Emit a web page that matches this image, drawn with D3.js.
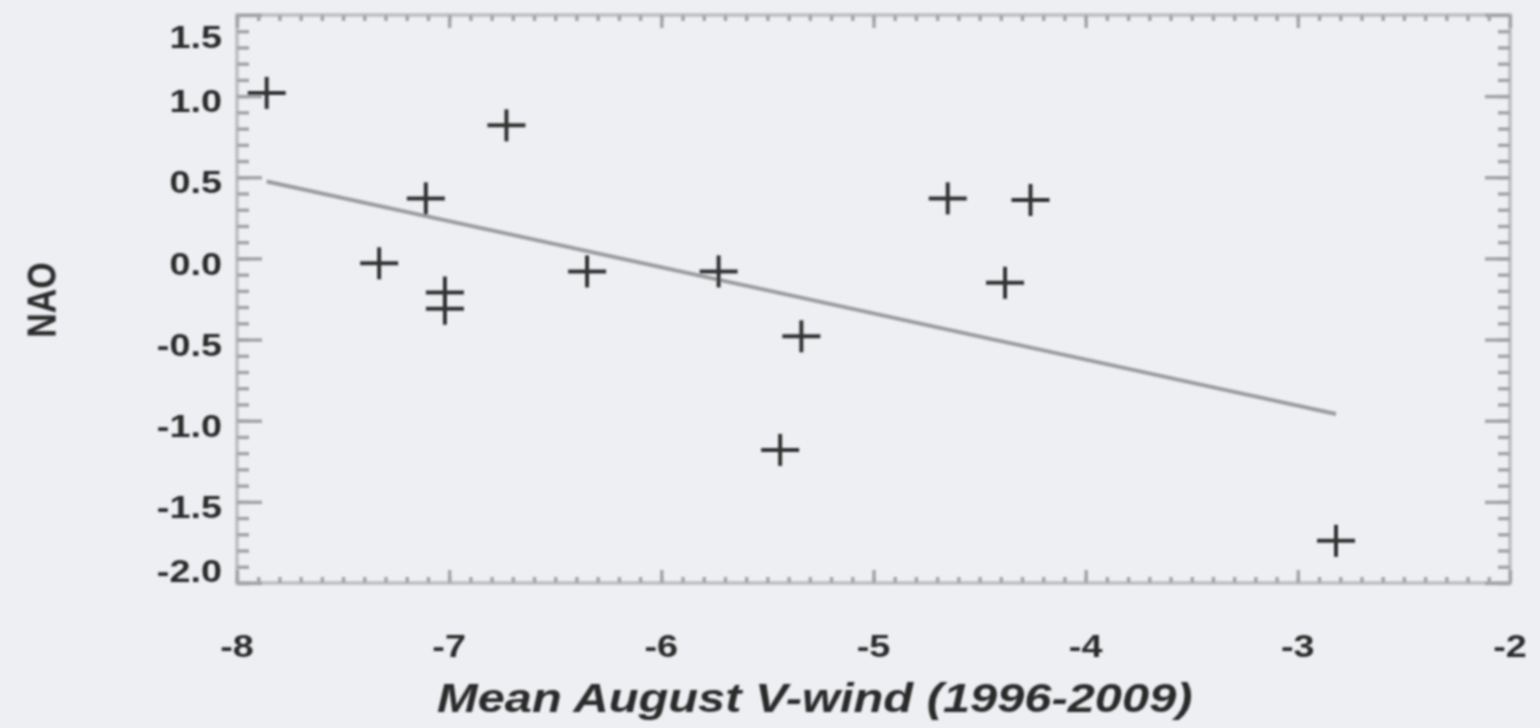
<!DOCTYPE html>
<html>
<head>
<meta charset="utf-8">
<script src="https://cdn.jsdelivr.net/npm/d3@7"></script>
<style>
  html, body { margin: 0; padding: 0; background: #eeeff3; }
  svg { display: block; }
  text { font-family: "Liberation Sans", Arial, sans-serif; font-weight: bold; fill: #2b2b2b; }
</style>
</head>
<body>
<div id="chart-container"></div>
<script>
//Chart data

const windX = [-7.86, -6.73, -7.11, -7.33, -7.02, -7.02, -6.35, -5.73, -5.34, -5.44, -4.65, -4.26, -4.38, -2.82];
const naoY = [1.02, 0.82, 0.37, -0.03, -0.21, -0.31, -0.08, -0.08, -0.48, -1.18, 0.37, 0.36, -0.15, -1.74];

const xTicks = [-8, -7, -6, -5, -4, -3, -2];
const yTicks = [-2.0, -1.5, -1.0, -0.5, 0.0, 0.5, 1.0, 1.5];
const xTitle = "Mean August V-wind (1996-2009)";
const yTitle = "NAO";

//Dimensions

const margin = { top: 15, right: 30, bottom: 145, left: 237 };
const width = 1540 - margin.left - margin.right;
const height = 728 - margin.top - margin.bottom;
const stretch = 1.22; //the picture is wider than tall, so text is stretched sideways

const xScale = d3.scaleLinear().domain([-8, -2]).range([0, width]);
const yScale = d3.scaleLinear().domain([-2, 1.5]).range([height, 0]);

const root = d3.select("#chart-container")
  .append("svg")
  .attr("width", 1540)
  .attr("height", 728);

//soft look of the reference
root.append("defs").append("filter")
  .attr("id", "soft")
  .append("feGaussianBlur")
  .attr("stdDeviation", 0.8);

const svg = root.append("g")
  .attr("filter", "url(#soft)")
  .attr("transform", `translate(${margin.left},${margin.top})`);

//Frame

svg.append("rect")
  .attr("width", width)
  .attr("height", height)
  .attr("fill", "none")
  .attr("stroke", "#c2c2c4")
  .attr("stroke-width", 4);

//Ticks on all four sides, pointing in

const xMinor = d3.range(-80, -20).map((d) => d / 10);
const yMinor = d3.range(-20, 15).map((d) => d / 10);

function tickAxis(axis, values, size, pos) {
  const g = svg.append("g")
    .attr("transform", pos)
    .call(axis.tickValues(values).tickSizeInner(-size).tickSizeOuter(0).tickFormat(""));
  g.select(".domain").remove();
  g.selectAll(".tick line").attr("stroke", "#a4a4a6").attr("stroke-width", 3.5);
  return g;
}

tickAxis(d3.axisBottom(xScale), xMinor, 6, `translate(0,${height})`);
tickAxis(d3.axisTop(xScale), xMinor, 6, "translate(0,0)");
tickAxis(d3.axisBottom(xScale), xTicks, 13, `translate(0,${height})`);
tickAxis(d3.axisTop(xScale), xTicks, 13, "translate(0,0)");
tickAxis(d3.axisLeft(yScale), yMinor, 12, "translate(0,0)");
tickAxis(d3.axisRight(yScale), yMinor, 12, `translate(${width},0)`);
tickAxis(d3.axisLeft(yScale), yTicks, 25, "translate(0,0)");
tickAxis(d3.axisRight(yScale), yTicks, 25, `translate(${width},0)`);

//Tick labels

svg.selectAll(".xLabel")
  .data(xTicks)
  .join("text")
  .attr("class", "xLabel")
  .attr("transform", (d) => `translate(${xScale(d)},${height + 74}) scale(${stretch},1)`)
  .attr("text-anchor", "middle")
  .style("font-size", "31px")
  .text((d) => String(d));

svg.selectAll(".yLabel")
  .data(yTicks)
  .join("text")
  .attr("class", "yLabel")
  .attr("transform", (d) => {
    const y = Math.min(Math.max(yScale(d) + 5, 22), height - 12);
    return `translate(-15,${y}) scale(${stretch},1)`;
  })
  .attr("text-anchor", "end")
  .attr("dy", "0.36em")
  .style("font-size", "31px")
  .text((d) => d.toFixed(1));

//Axis titles

svg.append("text")
  .attr("transform", `translate(200,${height + 129}) scale(${stretch},1)`)
  .style("font-size", "40px")
  .style("font-style", "italic")
  .text(xTitle);

svg.append("text")
  .attr("transform", `translate(${41 - margin.left},${300 - margin.top}) rotate(-90) scale(1,${stretch})`)
  .attr("text-anchor", "middle")
  .attr("dy", "0.36em")
  .style("font-size", "34px")
  .text(yTitle);

//Least squares fit line over the data range

const points = windX.map((x, i) => ({ x: x, y: naoY[i] }));
const mx = d3.mean(windX);
const my = d3.mean(naoY);
const slope = d3.sum(points, (d) => (d.x - mx) * (d.y - my)) / d3.sum(points, (d) => (d.x - mx) ** 2);
const fitX = d3.extent(windX);
const fit = fitX.map((x) => ({ x: x, y: my + slope * (x - mx) }));

svg.append("path")
  .datum(fit)
  .attr("fill", "none")
  .attr("stroke", "#9c9c9e")
  .attr("stroke-width", 4)
  .attr("d", d3.line().x((d) => xScale(d.x)).y((d) => yScale(d.y)));

//Plus markers

const crosses = svg.selectAll(".cross")
  .data(points)
  .join("g")
  .attr("class", "cross")
  .attr("transform", (d) => `translate(${xScale(d.x)},${yScale(d.y)})`);

crosses.append("line")
  .attr("x1", -19).attr("x2", 19)
  .attr("stroke", "#333")
  .attr("stroke-width", 4);

crosses.append("line")
  .attr("y1", -16).attr("y2", 16)
  .attr("stroke", "#333")
  .attr("stroke-width", 4);
</script>
</body>
</html>
